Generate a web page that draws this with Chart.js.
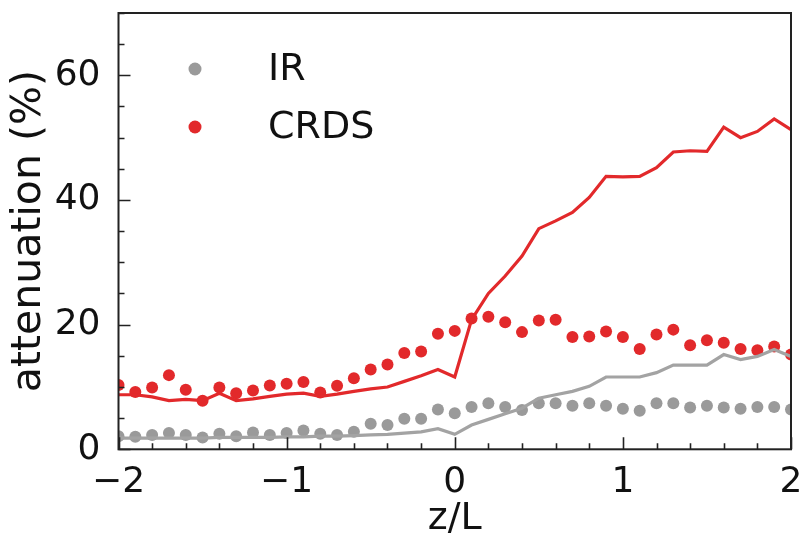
<!DOCTYPE html>
<html>
<head>
<meta charset="utf-8">
<script src="https://cdn.jsdelivr.net/npm/chart.js@4.4.1/dist/chart.umd.min.js"></script>
<style>
  html, body { margin: 0; padding: 0; background: #fff; }
  canvas { display: block; }
</style>
</head>
<body>
<canvas id="attenuation-chart" width="800" height="535"></canvas>
<script>
// stability parameter z/L, one bin every 0.1
const zL = [
  -2.0, -1.9, -1.8, -1.7, -1.6, -1.5, -1.4, -1.3, -1.2, -1.1,
  -1.0, -0.9, -0.8, -0.7, -0.6, -0.5, -0.4, -0.3, -0.2, -0.1,
  0.0, 0.1, 0.2, 0.3, 0.4, 0.5, 0.6, 0.7, 0.8, 0.9,
  1.0, 1.1, 1.2, 1.3, 1.4, 1.5, 1.6, 1.7, 1.8, 1.9, 2.0
];

// measured attenuation (%)
const irMeasured = [
  2.1, 2.0, 2.3, 2.6, 2.3, 1.9, 2.5, 2.1, 2.7, 2.3,
  2.6, 3.0, 2.5, 2.3, 2.8, 4.1, 3.9, 4.9, 4.9, 6.4,
  5.8, 6.8, 7.4, 6.8, 6.3, 7.4, 7.4, 7.0, 7.4, 7.0,
  6.5, 6.2, 7.4, 7.4, 6.7, 7.0, 6.7, 6.5, 6.8, 6.8, 6.4
];
const crdsMeasured = [
  10.3, 9.2, 9.9, 11.9, 9.55, 7.8, 9.9, 9.0, 9.45, 10.25,
  10.5, 10.8, 9.1, 10.2, 11.4, 12.8, 13.6, 15.45, 15.7, 18.55,
  19.0, 21.0, 21.25, 20.4, 18.8, 20.65, 20.8, 18.0, 18.1, 18.9,
  18.0, 16.1, 18.4, 19.2, 16.7, 17.5, 17.1, 16.1, 15.9, 16.5, 15.2
];

// modelled attenuation (%)
const irModel = [
  1.8, 1.8, 1.8, 1.8, 1.8, 1.8, 1.9, 1.9, 1.9, 1.9,
  2.0, 2.0, 2.1, 2.1, 2.2, 2.3, 2.4, 2.6, 2.8, 3.3,
  2.4, 3.9, 4.8, 5.7, 6.6, 8.2, 8.75, 9.3, 10.1, 11.6,
  11.6, 11.6, 12.3, 13.5, 13.5, 13.5, 15.2, 14.4, 14.9, 16.0, 14.9
];
const crdsModel = [
  8.75, 8.75, 8.4, 7.8, 8.0, 7.8, 9.0, 7.8, 8.1, 8.5,
  8.85, 9.0, 8.5, 8.85, 9.3, 9.7, 10.0, 10.9, 11.8, 12.8,
  11.6, 20.8, 25.0, 27.8, 31.0, 35.4, 36.65, 38.0, 40.4, 43.8,
  43.7, 43.8, 45.2, 47.7, 47.9, 47.8, 51.7, 50.0, 51.0, 53.0, 51.3
];

const xTickValues = [-2, -1, 0, 1, 2];
const yTickValues = [0, 20, 40, 60];

const FONT = "'DejaVu Sans', sans-serif";
const RED = "#e2292b";
const GREY = "#9a9a9a";
const GREY_LINE = "#a3a3a3";

function pairs(xs, ys) {
  return xs.map((x, i) => ({ x: x, y: ys[i] }));
}

function minus(v) {
  return v < 0 ? "\u2212" + Math.abs(v) : String(v);
}

// matplotlib-ish frame: full box, inward major/minor ticks on left and bottom
const frameTicks = {
  id: "frameTicks",
  afterDatasetsDraw(chart) {
    const { ctx, chartArea: a, scales } = chart;
    ctx.save();
    ctx.strokeStyle = "#222";
    ctx.lineWidth = 1.6;
    ctx.beginPath();
    for (let v = -2; v <= 2.0001; v += 0.2) {
      const px = Math.round(scales.x.getPixelForValue(v)) + 0.5;
      const major = Math.abs(v - Math.round(v)) < 1e-6;
      const len = major ? 12 : 6;
      ctx.moveTo(px, a.bottom);
      ctx.lineTo(px, a.bottom - len);
    }
    for (let v = 0; v <= 70; v += 5) {
      const py = Math.round(scales.y.getPixelForValue(v)) + 0.5;
      const len = v % 20 === 0 ? 12 : 6;
      ctx.moveTo(a.left, py);
      ctx.lineTo(a.left + len, py);
    }
    ctx.stroke();
    ctx.lineWidth = 2;
    ctx.strokeRect(a.left, a.top, a.right - a.left, a.bottom - a.top);
    ctx.restore();
  }
};

// legend for the measured series, placed inside the upper left of the axes
const dotLegend = {
  id: "dotLegend",
  afterDraw(chart, args, opts) {
    const { ctx } = chart;
    ctx.save();
    ctx.font = "38px " + FONT;
    ctx.textBaseline = "middle";
    ctx.textAlign = "left";
    let row = 0;
    chart.data.datasets.forEach((ds) => {
      if (!ds.label) return;
      const y = opts.top + row * opts.rowGap;
      ctx.fillStyle = ds.backgroundColor;
      ctx.beginPath();
      ctx.arc(opts.dotX, y, 6.5, 0, Math.PI * 2);
      ctx.fill();
      ctx.fillStyle = "#111";
      ctx.fillText(ds.label, opts.textX, y + 1);
      row++;
    });
    ctx.restore();
  }
};

new Chart(document.getElementById("attenuation-chart").getContext("2d"), {
  type: "scatter",
  data: {
    datasets: [
      {
        label: "IR",
        data: pairs(zL, irMeasured),
        backgroundColor: GREY,
        borderWidth: 0,
        pointRadius: 6,
        showLine: false,
        clip: 0,
        order: 4
      },
      {
        label: "CRDS",
        data: pairs(zL, crdsMeasured),
        backgroundColor: RED,
        borderWidth: 0,
        pointRadius: 6,
        showLine: false,
        clip: 0,
        order: 3
      },
      {
        data: pairs(zL, irModel),
        showLine: true,
        borderColor: GREY_LINE,
        borderWidth: 3.2,
        pointRadius: 0,
        tension: 0,
        clip: 0,
        order: 2
      },
      {
        data: pairs(zL, crdsModel),
        showLine: true,
        borderColor: RED,
        borderWidth: 3.2,
        pointRadius: 0,
        tension: 0,
        clip: 0,
        order: 1
      }
    ]
  },
  options: {
    responsive: false,
    animation: false,
    layout: { padding: { top: 13, right: 9, left: 0, bottom: 0 } },
    plugins: {
      legend: { display: false },
      tooltip: { enabled: false },
      dotLegend: { dotX: 195, textX: 268, top: 69, rowGap: 58 }
    },
    scales: {
      x: {
        type: "linear",
        min: -2,
        max: 2,
        afterBuildTicks: (s) => { s.ticks = xTickValues.map((v) => ({ value: v })); },
        afterFit: (s) => {
          s.height = 85.7;
          s.paddingLeft = 0;
          s.paddingRight = 0;
        },
        grid: { display: false },
        border: { display: false },
        ticks: {
          color: "#111",
          font: { family: FONT, size: 36 },
          padding: 4,
          maxRotation: 0,
          callback: (v) => minus(v)
        },
        title: {
          display: true,
          text: "z/L",
          color: "#111",
          font: { family: FONT, size: 38 },
          padding: { top: 0, bottom: -7 }
        }
      },
      y: {
        min: 0,
        max: 70,
        afterBuildTicks: (s) => { s.ticks = yTickValues.map((v) => ({ value: v })); },
        afterFit: (s) => {
          s.width = 118.5;
          s.paddingTop = 0;
          s.paddingBottom = 0;
        },
        grid: { display: false },
        border: { display: false },
        ticks: {
          color: "#111",
          font: { family: FONT, size: 36 },
          padding: 10,
          callback: (v) => minus(v)
        },
        title: {
          display: true,
          text: "attenuation (%)",
          color: "#111",
          font: { family: FONT, size: 41 },
          padding: { top: 5, bottom: 0 }
        }
      }
    }
  },
  plugins: [frameTicks, dotLegend]
});
</script>
</body>
</html>
